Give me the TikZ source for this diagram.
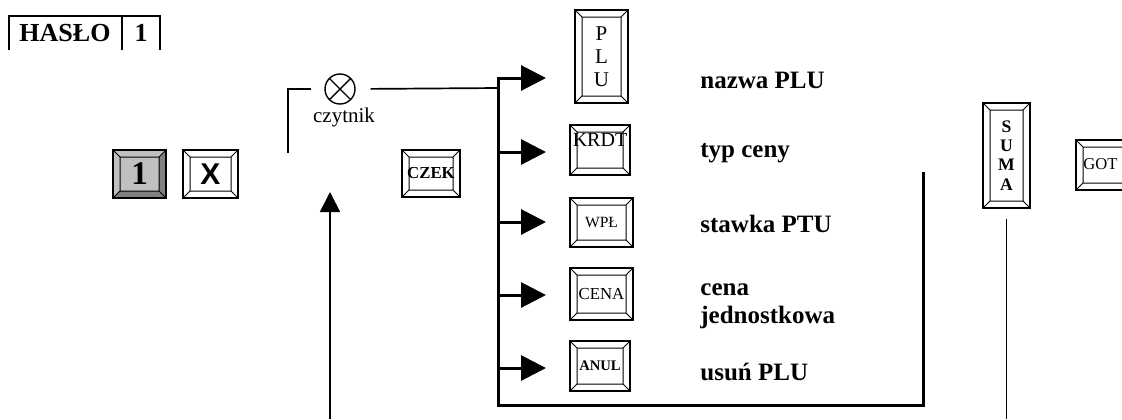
\documentclass[tikz,border=0pt]{standalone}
\usepackage{fontspec}
\setmainfont{Liberation Serif}
\newfontfamily\arialfont{Liberation Sans}
\usetikzlibrary{arrows.meta}
\definecolor{keygray}{HTML}{C0C0C0}
\definecolor{keydark}{HTML}{808080}
\tikzset{
  bev/.store in=\bev, bev=3.5pt,
  bevfill/.store in=\bevfill, bevfill=none,
  keyst/.style={draw, line width=1pt, inner sep=0pt, fill=white,
    path picture={
      \coordinate (qsw) at (path picture bounding box.south west);
      \coordinate (qne) at (path picture bounding box.north east);
      \coordinate (qnw) at (path picture bounding box.north west);
      \coordinate (qse) at (path picture bounding box.south east);
      \coordinate (isw) at ([shift={(\bev,\bev)}]qsw);
      \coordinate (ine) at ([shift={(-\bev,-\bev)}]qne);
      \coordinate (inw) at ([shift={(\bev,-\bev)}]qnw);
      \coordinate (ise) at ([shift={(-\bev,\bev)}]qse);
      \path[fill=\bevfill] (qsw) -- (isw) -- (ise) -- (qse) -- cycle
                           (qse) -- (ise) -- (ine) -- (qne) -- cycle;
      \draw[line width=0.5pt] (isw) rectangle (ine)
        (qsw) -- (isw) (qse) -- (ise) (qnw) -- (inw) (qne) -- (ine);
    }},
  lbl/.style={font=\bfseries\fontsize{12.5}{15}\selectfont, inner sep=0pt, anchor=base west},
  busarr/.style={line width=1.5pt, -{Triangle[length=12.5pt,width=12.5pt]}, shorten >=11.5pt},
  thinl/.style={line width=0.85pt},
}
\begin{document}
\begin{tikzpicture}[x=0.5pt,y=-0.5pt]
\useasboundingbox (0,0) rectangle (1122,419);

% HASLO box
\node[font=\bfseries\fontsize{13}{15}\selectfont, inner sep=0pt] (hs) at (65,33) {HASŁO};
\node[font=\bfseries\fontsize{13}{15}\selectfont, inner sep=0pt] (hn) at (141,33) {1};
\coordinate (hA) at (9,50); \coordinate (hB) at (9,16);
\coordinate (hC) at (160,16); \coordinate (hD) at (160,50);
\coordinate (hE) at (122,16); \coordinate (hF) at (122,50);
\draw[line width=1.2pt] (hA) -- (hB) -- (hC) -- (hD) (hE) -- (hF);

% keys
\node[keyst, fill=keygray, bevfill=keydark, minimum width=26.5pt, minimum height=24pt,
  font=\bfseries\fontsize{16.5}{16.5}\selectfont] (k1) at (139.5,174) {1};
\node[keyst, minimum width=27.5pt, minimum height=24pt,
  font=\arialfont\bfseries\fontsize{15}{15}\selectfont] (kX) at (210.5,174) {X};
\node[keyst, minimum width=29pt, minimum height=23.5pt,
  font=\bfseries\fontsize{8.4}{9}\selectfont] (czek) at (431,173.5) {CZEK};
\node[keyst, minimum width=26.5pt, minimum height=46.5pt, align=center,
  font=\fontsize{10.5}{11.5}\selectfont] (plu) at (601.5,56.5) {P\\L\\U};
\node[keyst, minimum width=30pt, minimum height=25pt] (krdt) at (600,150) {};
\node[inner sep=0pt, font=\fontsize{10}{11}\selectfont] (krdtl) at (600,140) {KRDT};
\node[keyst, minimum width=31.5pt, minimum height=24.5pt,
  font=\fontsize{7.8}{8}\selectfont] (wpl) at (601.5,222.5) {WPŁ};
\node[keyst, minimum width=31.5pt, minimum height=26pt,
  font=\fontsize{8.4}{9}\selectfont] (cena) at (601.5,294) {CENA};
\node[keyst, minimum width=30pt, minimum height=25pt,
  font=\bfseries\fontsize{7.3}{8}\selectfont] (anul) at (600,366) {ANUL};
\node[keyst, minimum width=23.5pt, minimum height=52.5pt, align=center,
  font=\bfseries\fontsize{8.8}{9.6}\selectfont] (suma) at (1006.5,155.5) {S\\U\\M\\A};
\node[keyst, minimum width=29pt, minimum height=25pt] (got) at (1105,165) {};
\node[inner sep=0pt, anchor=west, font=\fontsize{8.3}{9}\selectfont] (gotl) at (1083,164) {GOT};

% reader
\node[draw, circle, minimum size=15pt, inner sep=0pt, line width=0.7pt,
  path picture={\draw[line width=0.7pt]
    (path picture bounding box.north west) -- (path picture bounding box.south east)
    (path picture bounding box.north east) -- (path picture bounding box.south west);}]
  (cz) at (340,89) {};
\node[inner sep=0pt, font=\fontsize{10.5}{12}\selectfont] (czl) at (344,117) {czytnik};
\coordinate (br) at (288,153);
\draw[thinl, shorten >=6.5pt] (br) |- (cz.west);
\coordinate (j) at (498,88);
\draw[thinl, shorten <=7.5pt] (cz.east) -- (j);

% bus
\coordinate (b1) at (498,78);
\coordinate (b2) at (498,152);
\coordinate (b3) at (498,222);
\coordinate (b4) at (498,295);
\coordinate (b5) at (498,368);
\coordinate (b6) at (498,405);
\coordinate (r6) at (923,405);
\coordinate (r7) at (923,172);
\draw[busarr, shorten >=14pt] (r7) -- (r6) -- (b6) -- (b1) -- (b1 -| plu.west);
\draw[busarr] (b2) -- (b2 -| krdt.west);
\draw[busarr] (b3) -- (b3 -| wpl.west);
\draw[busarr] (b4) -- (b4 -| cena.west);
\draw[busarr] (b5) -- (b5 -| anul.west);

% labels
\node[lbl] (t1) at (700,88) {nazwa PLU};
\node[lbl] (t2) at (700,157) {typ ceny};
\node[lbl] (t3) at (700,232) {stawka PTU};
\node[lbl] (t4) at (700,295) {cena};
\node[lbl] (t5) at (700,323) {jednostkowa};
\node[lbl] (t6) at (700,380) {usuń PLU};

% up arrow and SUMA line
\coordinate (ua0) at (330,419);
\coordinate (ua1) at (330,192);
\draw[thinl, -{Triangle[length=10pt,width=10pt]}] (ua0) -- (ua1);
\coordinate (s0) at (1005,419);
\draw[thinl, shorten <=5pt] (suma.south) -- (suma.south |- s0);
\end{tikzpicture}
\end{document}
